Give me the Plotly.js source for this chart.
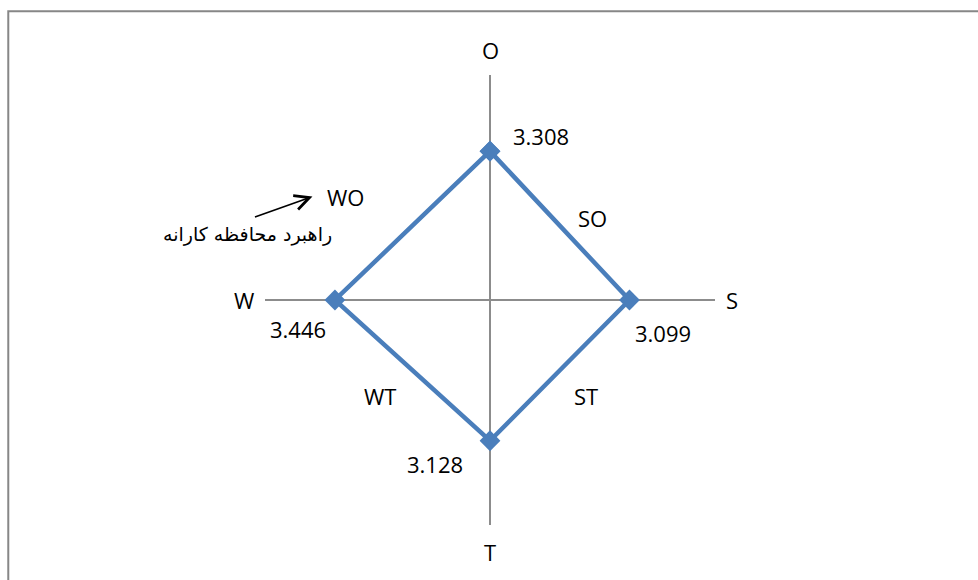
<!DOCTYPE html>
<html>
<head>
<meta charset="utf-8">
<script src="https://cdn.plot.ly/plotly-3.0.1.min.js"></script>
<style>html,body{margin:0;padding:0;background:#fff;}#chart{width:978px;height:580px;}</style>
</head>
<body>
<div id="chart"></div>
<script>
// ---- data ----
var axisNames = ['O', 'S', 'T', 'W'];
var axisValues = [3.308, 3.099, 3.128, 3.446];
var edgeLabels = ['SO', 'ST', 'WT', 'WO'];
var noteText = 'راهبرد محافظه کارانه';
var axisLimit = 5;

// direction of each named axis (unit vectors)
var dirs = { O: [0, 1], S: [1, 0], T: [0, -1], W: [-1, 0] };

var px = [], py = [];
axisNames.forEach(function (n, i) {
  px.push(dirs[n][0] * axisValues[i]);
  py.push(dirs[n][1] * axisValues[i]);
});
var lx = px.concat([px[0]]);
var ly = py.concat([py[0]]);

var blue = '#4A7EBB';
var txtFont = { family: 'Open Sans, Liberation Sans, sans-serif', size: 22, color: '#000' };

var annotations = [];
// axis end labels
var axisLabelShift = { O: [0, 25], S: [17, 0], T: [0, -27], W: [-21, 0] };
axisNames.forEach(function (n) {
  annotations.push({
    x: dirs[n][0] * axisLimit, y: dirs[n][1] * axisLimit, xref: 'x', yref: 'y',
    text: n, showarrow: false, font: txtFont,
    xshift: axisLabelShift[n][0], yshift: axisLabelShift[n][1]
  });
});
// value labels
var valShift = { O: [51, 15], S: [34, -33], T: [-55, -23], W: [-37, -29] };
axisNames.forEach(function (n, i) {
  annotations.push({
    x: px[i], y: py[i], xref: 'x', yref: 'y',
    text: axisValues[i].toFixed(3), showarrow: false, font: txtFont,
    xshift: valShift[n][0], yshift: valShift[n][1]
  });
});
// edge labels at edge midpoints: SO (O-S), ST (S-T), WT (T-W), WO (W-O)
var edgeShift = [[33, 8], [26, -26], [-32, -26], [-67, 29]];
for (var k = 0; k < 4; k++) {
  var mx = (lx[k] + lx[k + 1]) / 2, my = (ly[k] + ly[k + 1]) / 2;
  annotations.push({
    x: mx, y: my, xref: 'x', yref: 'y', text: edgeLabels[k], showarrow: false,
    font: txtFont, xshift: edgeShift[k][0], yshift: edgeShift[k][1]
  });
}
// arrow + Persian note near WO
var wmx = (lx[3] + lx[4]) / 2, wmy = (ly[3] + ly[4]) / 2;
annotations.push({
  x: wmx, y: wmy, xref: 'x', yref: 'y', text: '', showarrow: true,
  arrowhead: 5, arrowsize: 1.8, arrowwidth: 1.6, arrowcolor: '#000',
  ax: -59, ay: 21, xshift: -100, yshift: 29, standoff: 0
});
annotations.push({
  x: wmx, y: wmy, xref: 'x', yref: 'y', text: noteText, showarrow: false,
  font: { family: 'DejaVu Sans, sans-serif', size: 19, color: '#000' },
  xshift: -165, yshift: -9
});

var trace = {
  x: lx, y: ly, type: 'scatter', mode: 'lines+markers',
  line: { color: blue, width: 4.5 },
  marker: { symbol: 'diamond', size: 16, color: blue },
  hoverinfo: 'skip', cliponaxis: false
};

var layout = {
  width: 978, height: 580,
  margin: { l: 265, r: 263, t: 75, b: 55 },
  paper_bgcolor: '#fff', plot_bgcolor: 'rgba(0,0,0,0)',
  showlegend: false,
  xaxis: {
    range: [-axisLimit, axisLimit], showgrid: false, showticklabels: false, ticks: '',
    showline: false, zeroline: true, zerolinecolor: '#8C8C8C', zerolinewidth: 1.5, fixedrange: true
  },
  yaxis: {
    range: [-axisLimit, axisLimit], showgrid: false, showticklabels: false, ticks: '',
    showline: false, zeroline: true, zerolinecolor: '#8C8C8C', zerolinewidth: 1.5, fixedrange: true
  },
  annotations: annotations,
  shapes: [{
    type: 'rect', xref: 'paper', yref: 'paper',
    x0: -0.5705, x1: 1.62, y0: -0.2, y1: 1.1415,
    line: { color: '#878787', width: 2 }, fillcolor: 'rgba(0,0,0,0)', layer: 'below'
  }]
};

Plotly.newPlot('chart', [trace], layout, { staticPlot: true, displayModeBar: false });
</script>
</body>
</html>
